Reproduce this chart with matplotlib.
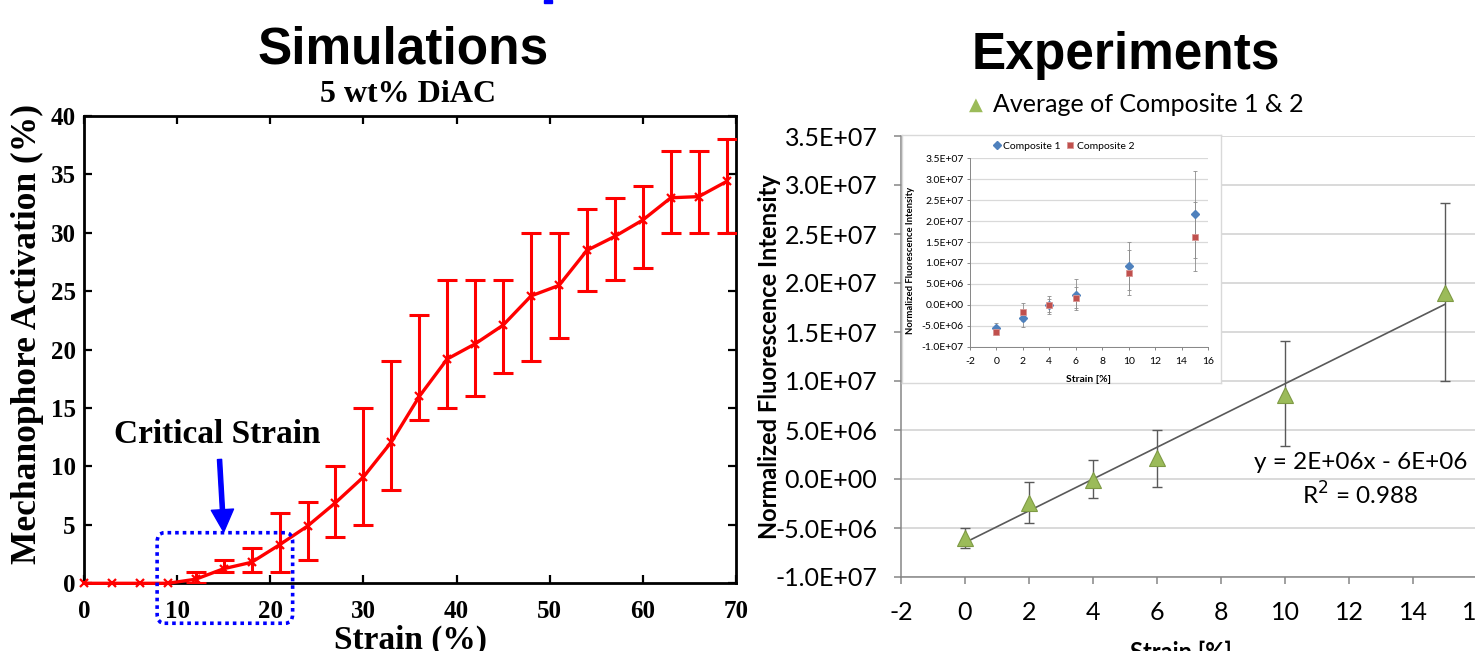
import numpy as np
import matplotlib
matplotlib.use("Agg")
import matplotlib.pyplot as plt
from matplotlib.patches import FancyBboxPatch, Rectangle
from matplotlib.ticker import FuncFormatter

plt.rcParams["axes.unicode_minus"] = False

# --- Simulations (left panel) ---
sim_strain = [0, 3, 6, 9, 12, 15, 18, 21, 24, 27, 30, 33,
              36, 39, 42, 45, 48, 51, 54, 57, 60, 63, 66, 69]
sim_act = [0, 0, 0, 0, 0.35, 1.25, 1.8, 3.3, 4.9, 6.9, 9.1, 12.1,
           16.0, 19.2, 20.5, 22.1, 24.6, 25.5, 28.5, 29.7, 31.1, 33.0, 33.1, 34.4]
sim_low = [0, 0, 0, 0, 0, 1, 1, 1, 2, 4, 5, 8,
           14, 15, 16, 18, 19, 21, 25, 26, 27, 30, 30, 30]
sim_high = [0, 0, 0, 0, 1, 2, 3, 6, 7, 10, 15, 19,
            23, 26, 26, 26, 30, 30, 32, 33, 34, 37, 37, 38]
sim_has_err = [False, False, False, False] + [True] * 20

# --- Experiments (right panel) ---
exp_strain = [0, 2, 4, 6, 10, 15]
avg_y = [-6.05e6, -2.45e6, -0.1e6, 2.1e6, 8.6e6, 18.95e6]
avg_lo = [-7.05e6, -4.45e6, -1.95e6, -0.8e6, 3.4e6, 10.0e6]
avg_hi = [-4.95e6, -0.3e6, 1.95e6, 5.0e6, 14.1e6, 28.2e6]

c1_y = [-5.5e6, -3.2e6, -0.1e6, 2.4e6, 9.3e6, 21.6e6]
c1_err = [1.1e6, 2.0e6, 2.2e6, 3.7e6, 5.7e6, 10.3e6]
c2_y = [-6.6e6, -1.7e6, -0.1e6, 1.7e6, 7.7e6, 16.3e6]
c2_err = [0.6e6, 2.1e6, 1.5e6, 2.5e6, 5.4e6, 8.3e6]

exp_yticks = [-1.0e7, -5.0e6, 0, 5.0e6, 1.0e7, 1.5e7, 2.0e7, 2.5e7, 3.0e7, 3.5e7]
exp_xticks = [-2, 0, 2, 4, 6, 8, 10, 12, 14, 16]

SERIF = "Liberation Serif"
ARIAL = "Liberation Sans"
CALIBRI = "Lato"
W, H = 1475, 651


def px(x0, y0, x1, y1):
    """pixel box (top-left origin) -> figure rect"""
    return [x0 / W, 1 - y1 / H, (x1 - x0) / W, (y1 - y0) / H]


def sci(v, _pos=None):
    return f"{v:.1E}"


fig = plt.figure(figsize=(W / 100, H / 100), dpi=100)

# ================= left: simulations =================
ax = fig.add_axes(px(84, 116, 736, 583.3))
x = np.array(sim_strain, dtype=float)
y = np.array(sim_act)
m = np.array(sim_has_err)
yerr = np.vstack([y[m] - np.array(sim_low)[m], np.array(sim_high)[m] - y[m]])
ax.errorbar(x[m], y[m], yerr=yerr, fmt="none", ecolor="red", elinewidth=2.2,
            capsize=7, capthick=2.2, zorder=3)
ax.plot(x, y, color="red", lw=2.4, marker="x", ms=6, mew=1.6,
        clip_on=False, zorder=4)
ax.set_xlim(0, 70)
ax.set_ylim(0, 40)
ax.set_xticks(range(0, 71, 10))
ax.set_yticks(range(0, 41, 5))
ax.tick_params(direction="in", top=True, right=True, length=6, width=1.6,
               labelsize=18, pad=6)
ax.tick_params(axis="x", pad=12)
for lab in ax.get_xticklabels() + ax.get_yticklabels():
    lab.set_fontfamily(SERIF)
    lab.set_fontweight("bold")
for sp in ax.spines.values():
    sp.set_linewidth(2)
fig.text(410 / W, 1 - 649 / H, "Strain (%)", ha="center", va="baseline",
         fontsize=24, fontweight="bold", family=SERIF)
ax.text(-0.087, 0.533, "Mechanophore Activation (%)", transform=ax.transAxes,
        rotation=90, ha="center", va="center", fontsize=25.5,
        fontweight="bold", family=SERIF)

# critical strain box + arrow
box = FancyBboxPatch((7.85, -3.42), 22.4 - 7.85, 4.33 + 3.42,
                     boxstyle="round,pad=0,rounding_size=0.8",
                     fill=False, edgecolor="blue", lw=2.6,
                     linestyle=(0, (1, 1.1)), clip_on=False, zorder=5)
ax.add_patch(box)
ax.annotate("", xy=(15.0, 4.4), xytext=(14.55, 10.6),
            arrowprops=dict(facecolor="blue", edgecolor="blue", width=3,
                            headwidth=16, headlength=16, shrink=0),
            annotation_clip=False)
ax.text(14.3, 12.7, "Critical Strain", ha="center", va="center",
        fontsize=24, fontweight="bold", family=SERIF)

fig.text(403 / W, 1 - 63 / H, "Simulations", ha="center", va="baseline",
         fontsize=37, fontweight="bold", family=ARIAL)
fig.text(408 / W, 1 - 102 / H, "5 wt% DiAC", ha="center", va="baseline",
         fontsize=23, fontweight="bold", family=SERIF)

# tiny blue fragment of a cropped heading at the very top
fig.patches.append(Rectangle((544 / W, 1 - 3 / H), 8 / W, 3 / H,
                             transform=fig.transFigure, color="blue"))

# ================= right: experiments =================
grid_c = "#D9D9D9"
axis_c = "#868686"

ax2 = fig.add_axes(px(901, 136, 1477, 577))
ax2.set_xlim(-2, 16)
ax2.set_ylim(-1.0e7, 3.5e7)
ax2.set_xticks(exp_xticks)
ax2.set_yticks(exp_yticks)
ax2.yaxis.set_major_formatter(FuncFormatter(sci))
ax2.grid(axis="y", color=grid_c, lw=1.4)
ax2.set_axisbelow(True)
for s in ["top", "right"]:
    ax2.spines[s].set_visible(False)
for s in ["left", "bottom"]:
    ax2.spines[s].set_color(axis_c)
    ax2.spines[s].set_linewidth(1.1)
ax2.tick_params(direction="out", length=5, width=1.1, color=axis_c,
                labelsize=18)
ax2.tick_params(axis="y", pad=12)
ax2.tick_params(axis="x", pad=12)
for lab in ax2.get_xticklabels() + ax2.get_yticklabels():
    lab.set_fontfamily(CALIBRI)

ex = np.array(exp_strain, dtype=float)
ay = np.array(avg_y)
aerr = np.vstack([ay - np.array(avg_lo), np.array(avg_hi) - ay])
ax2.errorbar(ex, ay, yerr=aerr, fmt="none", ecolor="#595959", elinewidth=1.0,
             capsize=3.5, capthick=1.0, zorder=3)
slope, icpt = np.polyfit(ex, ay, 1)
fx = np.array([ex.min(), ex.max()])
ax2.plot(fx, slope * fx + icpt, color="#595959", lw=1.2, zorder=4)
ax2.plot(ex, ay, linestyle="none", marker="^", ms=11, mfc="#9BBB59",
         mec="#7E9A44", mew=0.8, zorder=5)
ax2.text(12.35, 1.65e6, "y = 2E+06x - 6E+06", ha="center", va="center",
         fontsize=17.5, family=CALIBRI)
ax2.text(12.35, -1.65e6, "R$^2$ = 0.988", ha="center", va="center",
         fontsize=17.5, family=CALIBRI)
ax2.text(-0.229, 0.5, "Normalized Fluorescence Intensity",
         transform=ax2.transAxes, rotation=90, ha="center", va="center",
         fontsize=17, fontweight="bold", family=CALIBRI)

fig.text(1181 / W, 1 - 660 / H, "Strain [%]", ha="center", va="baseline",
         fontsize=17, fontweight="bold", family=CALIBRI)
fig.text(1126 / W, 1 - 69 / H, "Experiments", ha="center", va="baseline",
         fontsize=37, fontweight="bold", family=ARIAL)
fig.text(976 / W, 1 - 105 / H, "\u25B2", ha="center", va="center",
         fontsize=13, color="#9BBB59", family="DejaVu Sans")
fig.text(993 / W, 1 - 105 / H, "Average of Composite 1 & 2", ha="left",
         va="center", fontsize=18, family=CALIBRI)

# ---- inset ----
bg = fig.add_axes(px(902, 135, 1221, 383))
bg.set_xticks([])
bg.set_yticks([])
bg.set_facecolor("white")
for sp in bg.spines.values():
    sp.set_color(grid_c)
    sp.set_linewidth(1.0)

ins = fig.add_axes(px(970, 158.3, 1208, 346.7))
ins.set_facecolor("none")
ins.set_xlim(-2, 16)
ins.set_ylim(-1.0e7, 3.5e7)
ins.set_xticks(exp_xticks)
ins.set_yticks(exp_yticks)
ins.yaxis.set_major_formatter(FuncFormatter(sci))
ins.grid(axis="y", color=grid_c, lw=0.9)
ins.set_axisbelow(True)
for s in ["top", "right"]:
    ins.spines[s].set_visible(False)
for s in ["left", "bottom"]:
    ins.spines[s].set_color(axis_c)
    ins.spines[s].set_linewidth(0.7)
ins.tick_params(direction="out", length=2.5, width=0.7, color=axis_c,
                labelsize=7.5, pad=2)
ins.tick_params(axis="x", pad=5)
for lab in ins.get_xticklabels() + ins.get_yticklabels():
    lab.set_fontfamily(CALIBRI)

ins.errorbar(ex, c1_y, yerr=c1_err, fmt="none", ecolor="#8C8C8C",
             elinewidth=0.6, capsize=1.2, capthick=0.6)
ins.errorbar(ex, c2_y, yerr=c2_err, fmt="none", ecolor="#8C8C8C",
             elinewidth=0.6, capsize=1.2, capthick=0.6)
ins.plot(ex, c1_y, linestyle="none", marker="D", ms=3.6, mfc="#4F81BD",
         mec="#4F81BD", label="Composite 1")
ins.plot(ex, c2_y, linestyle="none", marker="s", ms=5, mfc="#C0504D",
         mec="#D99694", mew=0.6, label="Composite 2")
leg = ins.legend(loc="lower center", bbox_to_anchor=(0.395, 1.0), ncol=2,
                 frameon=False, handlelength=0.6,
                 handletextpad=0.3, columnspacing=0.6, borderpad=0.2,
                 prop={"family": CALIBRI, "size": 7.5})
ins.text(-0.25, 0.46, "Normalized Fluorescence Intensity",
         transform=ins.transAxes, rotation=90, ha="center", va="center",
         fontsize=6.8, fontweight="bold", family=CALIBRI)
ins.text(0.5, -0.15, "Strain [%]", transform=ins.transAxes, ha="center",
         va="top", fontsize=7.5, fontweight="bold", family=CALIBRI)

fig.savefig("out.png", dpi=100)
